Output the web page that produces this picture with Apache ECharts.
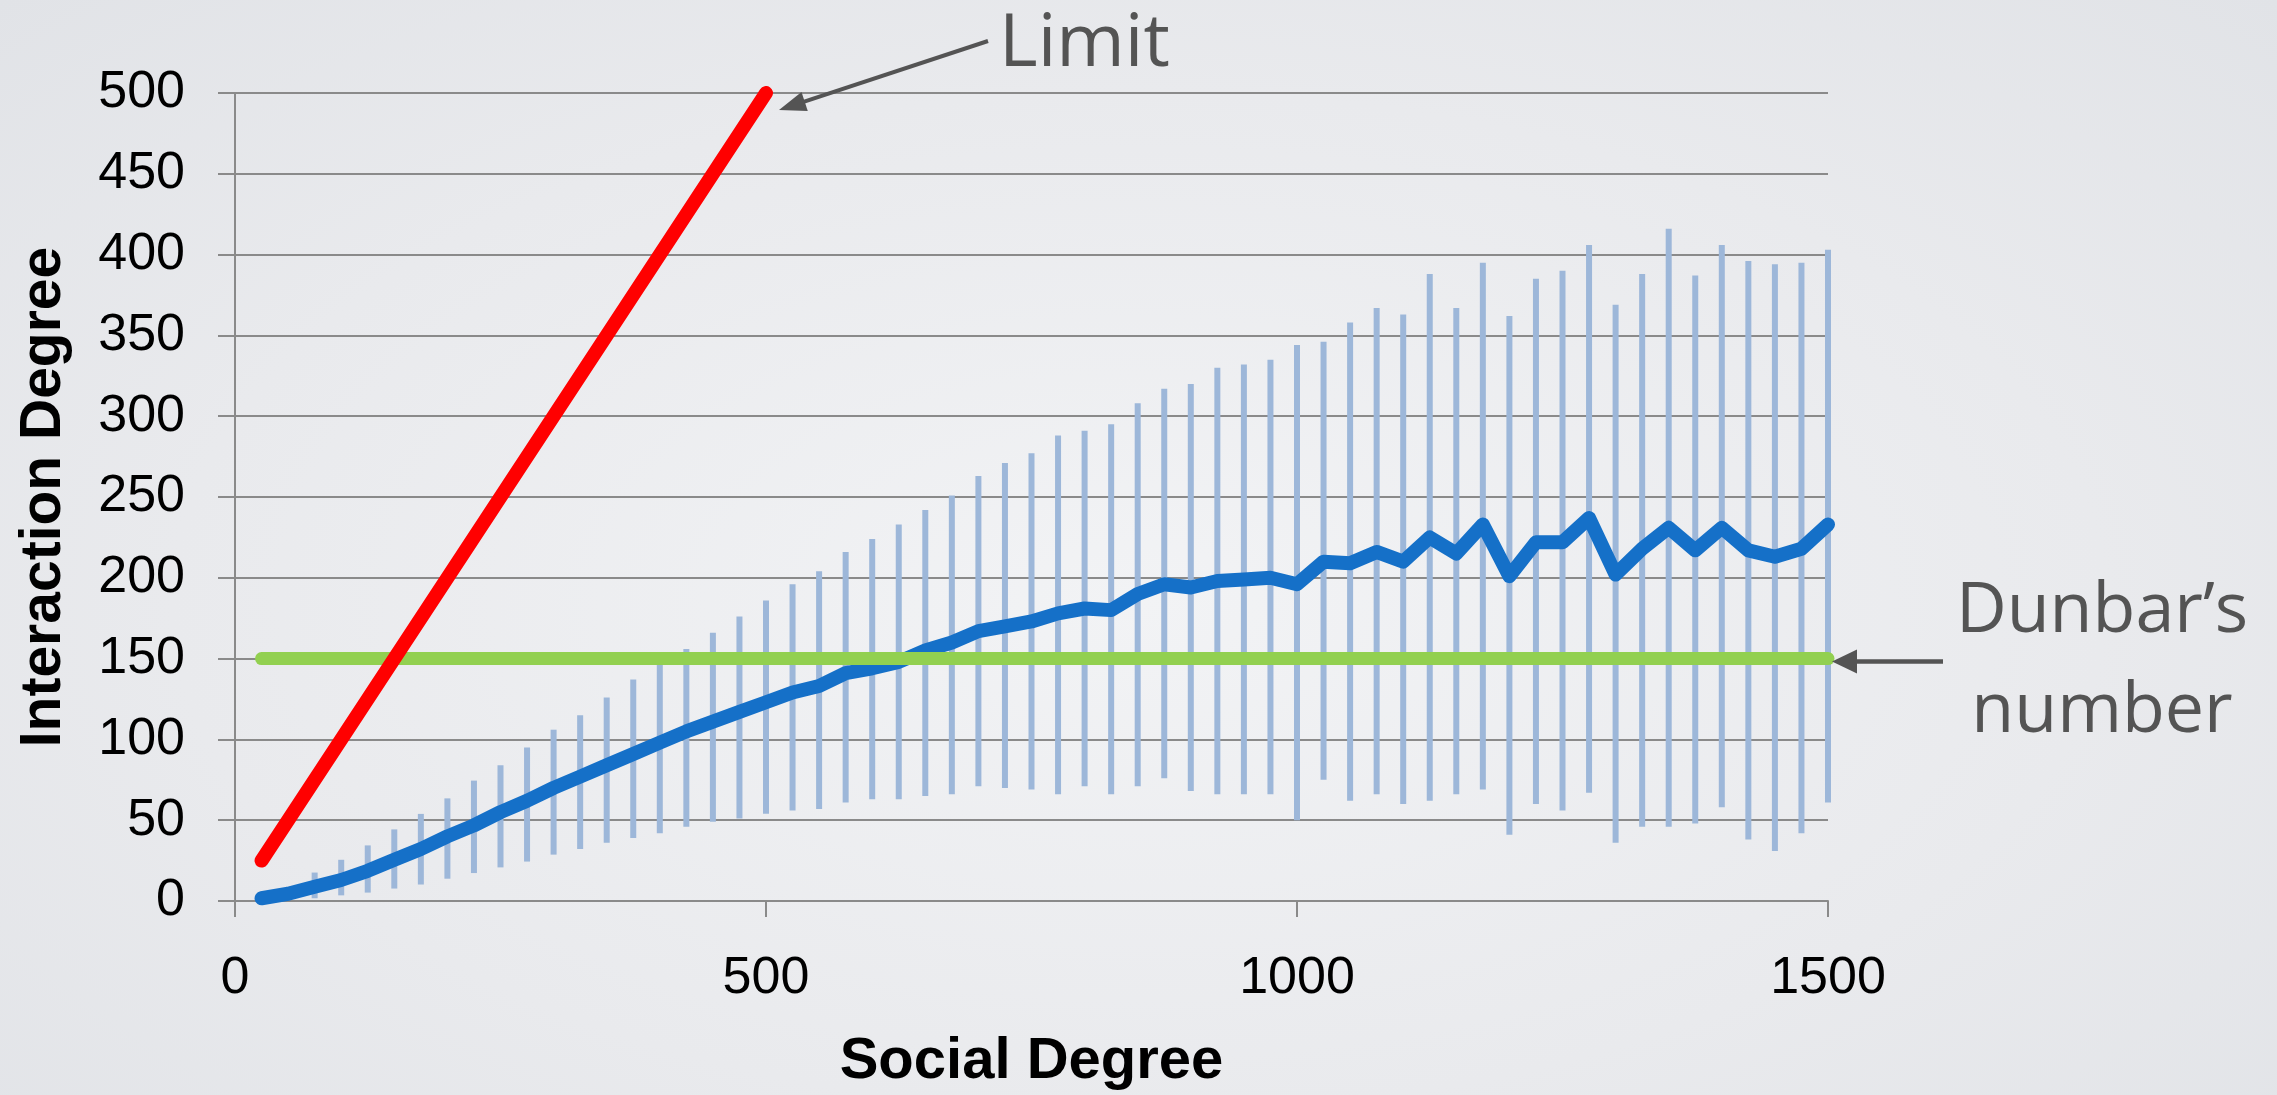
<!DOCTYPE html>
<html>
<head>
<meta charset="utf-8">
<title>Interaction Degree vs Social Degree</title>
<script src="https://cdn.jsdelivr.net/npm/echarts@6/dist/echarts.min.js"></script>
<style>
  html, body { margin: 0; padding: 0; }
  body {
    width: 2277px; height: 1095px; overflow: hidden;
    background: radial-gradient(ellipse at 50% 55%, #f2f3f5 0%, #e9eaed 60%, #e1e3e7 100%);
  }
  #chart { width: 2277px; height: 1095px; }
</style>
</head>
<body>
<div id="chart"></div>
<script>
// Social degree bins (x positions of every sample)
const socialDegree = [
  25, 50, 75, 100, 125, 150, 175, 200, 225, 250,
  275, 300, 325, 350, 375, 400, 425, 450, 475, 500,
  525, 550, 575, 600, 625, 650, 675, 700, 725, 750,
  775, 800, 825, 850, 875, 900, 925, 950, 975, 1000,
  1025, 1050, 1075, 1100, 1125, 1150, 1175, 1200, 1225, 1250,
  1275, 1300, 1325, 1350, 1375, 1400, 1425, 1450, 1475, 1500
];

// Mean interaction degree per bin
const meanInteraction = [
  1.7, 4.5, 8.8, 13, 18.7, 25.5, 32.2, 40, 46.8, 55,
  62, 70, 77, 84, 91, 98, 105, 111, 117, 123,
  129, 133, 141, 144, 148, 155, 160, 167, 170, 173,
  178, 181, 180, 190, 196, 194, 198, 199, 200, 196,
  210, 209, 216, 210, 225, 215, 233, 201, 222, 222,
  237, 202, 218, 231, 217, 231, 217, 213, 218, 233
];

// Upper end of each error bar
const errorHigh = [
  3, 8, 17.6, 25.5, 34.4, 44.3, 53.9, 63.5, 74.5, 84,
  95, 106, 115, 126, 137, 147, 156, 166, 176, 186,
  196, 204, 216, 224, 233, 242, 251, 263, 271, 277,
  288, 291, 295, 308, 317, 320, 330, 332, 335, 344,
  346, 358, 367, 363, 388, 367, 395, 362, 385, 390,
  406, 369, 388, 416, 387, 406, 396, 394, 395, 403
];

// Lower end of each error bar
const errorLow = [
  1, 1, 1.7, 3.5, 5.2, 7.7, 10.2, 13.8, 17.3, 20.8,
  24.4, 28.7, 32.2, 36, 39, 42, 46, 49, 51, 54,
  56, 57, 61, 63, 63, 65, 66, 71, 70, 69,
  66, 71, 66, 71, 76, 68, 66, 66, 66, 50,
  75, 62, 66, 60, 62, 66, 69, 41, 60, 56,
  67, 36, 46, 46, 48, 58, 38, 31, 42, 61
];

// Reference lines: the upper limit (interaction = social) and Dunbar's number
const limitLine = [[25, 25], [500, 500]];
const dunbarLine = [[25, 150], [1500, 150]];

// Axis ranges and tick spacing
const xAxisRange = { min: 0, max: 1500, interval: 500 };
const yAxisRange = { min: 0, max: 500, interval: 50 };

const axisGray = '#8a8a8a';
const tickFont = 'Liberation Sans, Arial, sans-serif';
const noteFont = '"Open Sans", "Noto Sans", sans-serif';
const noteColor = '#545454';

const chart = echarts.init(document.getElementById('chart'), null, { renderer: 'canvas' });

const option = {
  backgroundColor: 'transparent',
  animation: false,
  grid: { left: 235, right: 449, top: 93, bottom: 194, containLabel: false, outerBoundsMode: 'none' },
  xAxis: {
    type: 'value',
    min: xAxisRange.min, max: xAxisRange.max, interval: xAxisRange.interval,
    name: 'Social Degree',
    nameLocation: 'middle',
    nameGap: 132,
    nameTextStyle: { fontFamily: tickFont, fontWeight: 'bold', fontSize: 58, color: '#000' },
    axisLine: { show: true, onZero: false, lineStyle: { color: axisGray, width: 2 } },
    axisTick: { show: true, length: 16, lineStyle: { color: axisGray, width: 2 } },
    axisLabel: { fontFamily: tickFont, fontSize: 52, color: '#000', margin: 52, formatter: v => String(v) },
    splitLine: { show: false }
  },
  yAxis: {
    type: 'value',
    min: yAxisRange.min, max: yAxisRange.max, interval: yAxisRange.interval,
    name: 'Interaction Degree',
    nameLocation: 'middle',
    nameGap: 162,
    nameRotate: 90,
    nameTextStyle: { fontFamily: tickFont, fontWeight: 'bold', fontSize: 57, color: '#000' },
    axisLine: { show: true, lineStyle: { color: axisGray, width: 2 } },
    axisTick: { show: true, length: 17, lineStyle: { color: axisGray, width: 2 } },
    axisLabel: { fontFamily: tickFont, fontSize: 52, color: '#000', margin: 50, formatter: v => String(v) },
    splitLine: { show: true, lineStyle: { color: axisGray, width: 2 } }
  },
  series: [
    {
      name: 'Spread',
      type: 'custom',
      z: 1,
      data: socialDegree.map((x, i) => [x, errorLow[i], errorHigh[i]]),
      encode: { x: 0, y: [1, 2] },
      renderItem: function (params, api) {
        const lo = api.coord([api.value(0), api.value(1)]);
        const hi = api.coord([api.value(0), api.value(2)]);
        return {
          type: 'line',
          shape: { x1: lo[0], y1: lo[1], x2: hi[0], y2: hi[1] },
          style: { stroke: '#9db7d9', lineWidth: 6, lineCap: 'butt' }
        };
      }
    },
    {
      name: 'Mean',
      type: 'line',
      z: 2,
      data: socialDegree.map((x, i) => [x, meanInteraction[i]]),
      showSymbol: false,
      lineStyle: { color: '#1570c8', width: 14, cap: 'round', join: 'round' }
    },
    {
      name: 'Dunbar',
      type: 'line',
      z: 3,
      data: dunbarLine,
      showSymbol: false,
      lineStyle: { color: '#92d050', width: 13, cap: 'round' }
    },
    {
      name: 'Limit',
      type: 'line',
      z: 4,
      data: limitLine,
      showSymbol: false,
      lineStyle: { color: '#ff0000', width: 14, cap: 'round' }
    }
  ]
};

chart.setOption(option);

// Arrow made of a shaft and a filled head, pointing from tail to tip
function arrow(tail, tip, headLen, headHalf, width) {
  const dx = tip[0] - tail[0], dy = tip[1] - tail[1];
  const len = Math.sqrt(dx * dx + dy * dy);
  const ux = dx / len, uy = dy / len;
  const bx = tip[0] - ux * headLen, by = tip[1] - uy * headLen;
  return [
    {
      type: 'line', z: 100,
      shape: { x1: tail[0], y1: tail[1], x2: bx + ux * 2, y2: by + uy * 2 },
      style: { stroke: noteColor, lineWidth: width }
    },
    {
      type: 'polygon', z: 100,
      shape: { points: [tip, [bx - uy * headHalf, by + ux * headHalf], [bx + uy * headHalf, by - ux * headHalf]] },
      style: { fill: noteColor }
    }
  ];
}

const limitEnd = chart.convertToPixel({ gridIndex: 0 }, limitLine[1]);
const dunbarEnd = chart.convertToPixel({ gridIndex: 0 }, dunbarLine[1]);

const limitTip = [limitEnd[0] + 13, limitEnd[1] + 17];
const limitTail = [limitEnd[0] + 222, limitEnd[1] - 52];
const dunbarTip = [dunbarEnd[0] + 4, dunbarEnd[1] + 3];
const dunbarTail = [dunbarEnd[0] + 115, dunbarEnd[1] + 3];

chart.setOption({
  graphic: [
    ...arrow(limitTail, limitTip, 27, 10, 4),
    ...arrow(dunbarTail, dunbarTip, 25, 12, 4.5),
    {
      type: 'text', z: 100,
      x: limitEnd[0] + 233, y: 45,
      style: { text: 'Limit', font: '74px ' + noteFont, fill: noteColor, textAlign: 'left', textVerticalAlign: 'middle' }
    },
    {
      type: 'text', z: 100,
      x: 2102, y: 612,
      style: { text: 'Dunbar\u2019s', font: '70px ' + noteFont, fill: noteColor, textAlign: 'center', textVerticalAlign: 'middle' }
    },
    {
      type: 'text', z: 100,
      x: 2102, y: 712,
      style: { text: 'number', font: '70px ' + noteFont, fill: noteColor, textAlign: 'center', textVerticalAlign: 'middle' }
    }
  ]
});
</script>
</body>
</html>
